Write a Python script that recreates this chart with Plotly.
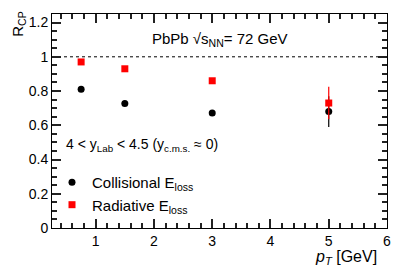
import plotly.graph_objects as go

pt = [0.75, 1.5, 3.0, 5.0]
coll = [0.81, 0.727, 0.672, 0.68]
coll_err = [0.0, 0.0, 0.0, 0.09]
rad = [0.97, 0.93, 0.86, 0.73]
rad_err = [0.0, 0.0, 0.0, 0.095]
x_range = [0.25, 6.0]
y_range = [0, 1.25]
ref_level = [1.0, 1.0]

font = "Liberation Sans, Arial, sans-serif"

fig = go.Figure()
fig.add_trace(go.Scatter(
    x=x_range, y=ref_level, mode="lines", showlegend=False, hoverinfo="skip",
    line=dict(color="black", width=1, dash="dot"),
))
fig.add_trace(go.Scatter(
    x=pt, y=coll, mode="markers", name="Collisional E<sub>loss</sub>",
    marker=dict(symbol="circle", size=7, color="black"),
    error_y=dict(type="data", array=coll_err, visible=True, color="black", thickness=1.2, width=0),
))
fig.add_trace(go.Scatter(
    x=pt, y=rad, mode="markers", name="Radiative E<sub>loss</sub>",
    marker=dict(symbol="square", size=7, color="red"),
    error_y=dict(type="data", array=rad_err, visible=True, color="red", thickness=1.2, width=0),
))

fig.update_xaxes(range=x_range, dtick=1, ticks="inside", ticklen=9, tickwidth=1.5, tickcolor="#222",
                 showline=True, linecolor="black", mirror="ticks",
                 minor=dict(ticks="inside", ticklen=5, tickcolor="#222"))
fig.update_yaxes(range=y_range, dtick=0.2, ticks="inside", ticklen=9, tickwidth=1.5, tickcolor="#222",
                 showline=True, linecolor="black", mirror="ticks",
                 minor=dict(ticks="inside", ticklen=5, tickcolor="#222"))

fig.add_annotation(text="PbPb √s<sub>NN</sub>= 72 GeV", xref="paper", yref="paper",
                   x=0.5, y=0.935, showarrow=False, xanchor="center",
                   font=dict(family=font, size=15, color="black"))
fig.add_annotation(text="4 < y<sub>Lab</sub> < 4.5 (y<sub>c.m.s.</sub> ≈ 0)", xref="paper", yref="paper",
                   x=0.035, y=0.39, showarrow=False, xanchor="left",
                   font=dict(family=font, size=14, color="black"))
fig.add_annotation(text="R<sub>CP</sub>", xref="paper", yref="paper",
                   x=-0.1, y=1.02, showarrow=False, xanchor="center", yanchor="top",
                   textangle=-90, font=dict(family=font, size=15, color="black"))
fig.add_annotation(text="<i>p<sub>T</sub></i> [GeV]", xref="paper", yref="paper",
                   x=0.975, y=-0.085, showarrow=False, xanchor="right", yanchor="top",
                   font=dict(family=font, size=16, color="black"))

# page body has an 8px margin, so the figure is offset by 8px
fig.update_layout(
    width=391, height=264,
    margin=dict(l=44, r=12, t=6, b=44),
    font=dict(family=font, size=14, color="black"),
    paper_bgcolor="white", plot_bgcolor="white",
    showlegend=True,
    legend=dict(x=0.0, y=0.29, xanchor="left", yanchor="top",
                bgcolor="rgba(0,0,0,0)", font=dict(family=font, size=15, color="black"),
                itemsizing="trace", tracegroupgap=4),
)

fig.write_html("out.html")
